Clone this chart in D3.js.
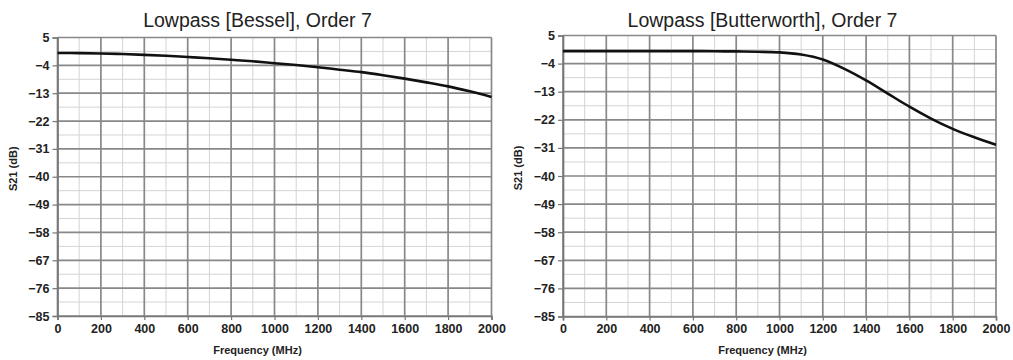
<!DOCTYPE html>
<html>
<head>
<meta charset="utf-8">
<script src="https://cdn.jsdelivr.net/npm/d3@7"></script>
<style>
  body { margin: 0; background: #fff; }
  svg { display: block; }
  .tick text { font: bold 12.5px "Liberation Sans", Arial, sans-serif; fill: #222; }
</style>
</head>
<body>
<svg id="chart" width="1013" height="360"></svg>
<script>
// Data

const freqs = [0, 100, 200, 300, 400, 500, 600, 700, 800, 900, 1000,
  1100, 1200, 1300, 1400, 1500, 1600, 1700, 1800, 1900, 2000];

const besselS21 = [0, -0.05, -0.15, -0.35, -0.6, -0.9, -1.3, -1.7, -2.2, -2.7, -3.3,
  -3.9, -4.6, -5.4, -6.2, -7.2, -8.3, -9.5, -10.8, -12.4, -14.2];

const butterS21 = [0, 0, 0, 0, 0, 0, 0, -0.05, -0.1, -0.2, -0.4,
  -1.1, -2.7, -5.7, -9.4, -13.6, -17.8, -21.6, -24.9, -27.6, -30];

const yTicks = [5, -4, -13, -22, -31, -40, -49, -58, -67, -76, -85];
const xTicks = [0, 200, 400, 600, 800, 1000, 1200, 1400, 1600, 1800, 2000];

const panels = [
  { title: 'Lowpass [Bessel], Order 7', values: besselS21, x0: 57.5, x1: 491.5, y0: 37.5, y1: 316 },
  { title: 'Lowpass [Butterworth], Order 7', values: butterS21, x0: 563, x1: 996, y0: 35.5, y1: 316.5 },
];

const svg = d3.select('#chart');

const drawPanel = (p) => {
  const x = d3.scaleLinear().domain([0, 2000]).range([p.x0, p.x1]);
  const y = d3.scaleLinear().domain([5, -85]).range([p.y0, p.y1]);

  const g = svg.append('g');

  // Minor grid
  const minorX = d3.range(100, 2000, 200);
  const minorY = d3.range(0.5, -85, -9);
  g.selectAll('.minor-x').data(minorX).enter().append('line')
    .attr('x1', (d) => x(d)).attr('x2', (d) => x(d))
    .attr('y1', p.y0).attr('y2', p.y1)
    .attr('stroke', '#d4d4d4').attr('stroke-width', 1);
  g.selectAll('.minor-y').data(minorY).enter().append('line')
    .attr('x1', p.x0).attr('x2', p.x1)
    .attr('y1', (d) => y(d)).attr('y2', (d) => y(d))
    .attr('stroke', '#d4d4d4').attr('stroke-width', 1);

  // Major grid
  g.selectAll('.major-x').data(xTicks).enter().append('line')
    .attr('x1', (d) => x(d)).attr('x2', (d) => x(d))
    .attr('y1', p.y0).attr('y2', p.y1)
    .attr('stroke', '#888').attr('stroke-width', 1.7);
  g.selectAll('.major-y').data(yTicks).enter().append('line')
    .attr('x1', p.x0).attr('x2', p.x1)
    .attr('y1', (d) => y(d)).attr('y2', (d) => y(d))
    .attr('stroke', '#888').attr('stroke-width', 1.7);

  // Axes
  const yAxis = g.append('g')
    .attr('transform', `translate(${p.x0},0)`)
    .call(d3.axisLeft(y).tickValues(yTicks).tickSize(5).tickPadding(3));
  const xAxis = g.append('g')
    .attr('transform', `translate(0,${p.y1})`)
    .call(d3.axisBottom(x).tickValues(xTicks).tickSize(4).tickPadding(4).tickFormat(d3.format('d')));
  [yAxis, xAxis].forEach((a) => {
    a.select('.domain').attr('stroke', '#777').attr('stroke-width', 1.7);
    a.selectAll('.tick line').attr('stroke', '#777').attr('stroke-width', 1.2);
  });

  // Curve
  const line = d3.line()
    .curve(d3.curveMonotoneX)
    .x((d, i) => x(freqs[i]))
    .y((d) => y(d));
  g.append('path')
    .attr('d', line(p.values))
    .attr('fill', 'none')
    .attr('stroke', '#111')
    .attr('stroke-width', 2.6);

  // Titles
  const cx = (p.x0 + p.x1) / 2 - 17;
  g.append('text')
    .attr('x', cx).attr('y', 27)
    .attr('text-anchor', 'middle')
    .style('font', '19.5px "Liberation Sans", Arial, sans-serif')
    .style('fill', '#222')
    .text(p.title);
  g.append('text')
    .attr('x', cx).attr('y', 354)
    .attr('text-anchor', 'middle')
    .style('font', 'bold 11px "Liberation Sans", Arial, sans-serif')
    .style('fill', '#222')
    .text('Frequency (MHz)');
  g.append('text')
    .attr('transform', `translate(${p.x0 - 41},${(p.y0 + p.y1) / 2 - 8}) rotate(-90)`)
    .attr('text-anchor', 'middle')
    .style('font', 'bold 11px "Liberation Sans", Arial, sans-serif')
    .style('fill', '#222')
    .text('S21 (dB)');
};

panels.forEach(drawPanel);
</script>
</body>
</html>
